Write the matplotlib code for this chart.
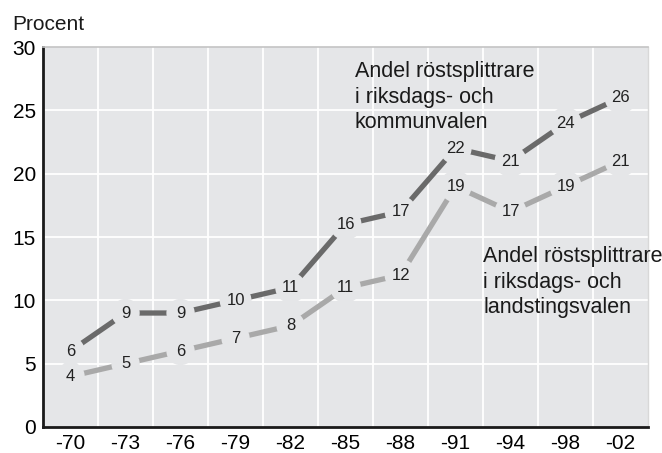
import matplotlib
matplotlib.use("Agg")
import matplotlib.pyplot as plt

years = ["-70", "-73", "-76", "-79", "-82", "-85", "-88", "-91", "-94", "-98", "-02"]
kommun = [6, 9, 9, 10, 11, 16, 17, 22, 21, 24, 26]
landsting = [4, 5, 6, 7, 8, 11, 12, 19, 17, 19, 21]
yticks = [0, 5, 10, 15, 20, 25, 30]

plt.rcParams['font.family'] = ['Liberation Sans', 'DejaVu Sans']

bg = '#e5e6e8'
dark = '#6a6a6a'
light = '#a9a9a9'

fig = plt.figure(figsize=(6.62, 4.53), dpi=100)
ax = fig.add_axes([0.065, 0.0574, 0.914, 0.8388])
ax.set_facecolor(bg)
x = list(range(len(years)))

ax.plot(x, kommun, color=dark, lw=3.8, solid_capstyle='butt', zorder=3)
ax.plot(x, landsting, color=light, lw=3.8, solid_capstyle='butt', zorder=3)

for xi, v in zip(x, kommun):
    ax.text(xi, v, str(v), ha='center', va='center', fontsize=12, color='#222222', zorder=5,
            bbox=dict(boxstyle='circle,pad=0.4', fc=bg, ec='none'))
for xi, v in zip(x, landsting):
    ax.text(xi, v, str(v), ha='center', va='center', fontsize=12, color='#222222', zorder=5,
            bbox=dict(boxstyle='circle,pad=0.4', fc=bg, ec='none'))

ax.set_xlim(-0.5, len(years) - 0.5)
ax.set_ylim(0, 30)
ax.set_xticks(x)
ax.set_xticklabels(years, fontsize=15)
ax.set_yticks(yticks)
ax.set_yticklabels([str(t) for t in yticks], fontsize=15)
ax.tick_params(length=0, pad=5)
for g in yticks[1:-1]:
    ax.axhline(g, color='white', lw=1.3, zorder=1)
for b in range(len(years) - 1):
    ax.axvline(b + 0.5, color='white', lw=1.3, zorder=1)

ax.spines['left'].set_linewidth(2)
ax.spines['bottom'].set_linewidth(2)
ax.spines['left'].set_color('#1a1a1a')
ax.spines['bottom'].set_color('#1a1a1a')
ax.spines['top'].set_color('#c4c4c4')
ax.spines['top'].set_linewidth(1.2)
ax.spines['right'].set_color('#d8d8d8')
ax.spines['right'].set_linewidth(1)

ax.text(5.17, 26.05, "Andel röstsplittrare\ni riksdags- och\nkommunvalen", ha='left', va='center',
        fontsize=15.5, color='#1a1a1a', linespacing=1.27, zorder=6)
ax.text(7.5, 11.44, "Andel röstsplittrare\ni riksdags- och\nlandstingsvalen", ha='left', va='center',
        fontsize=15.5, color='#1a1a1a', linespacing=1.27, zorder=6)

fig.text(12 / 662, 1 - 25 / 453, "Procent", ha='left', va='center', fontsize=15, color='#1a1a1a')

fig.savefig("out.png", dpi=100)
